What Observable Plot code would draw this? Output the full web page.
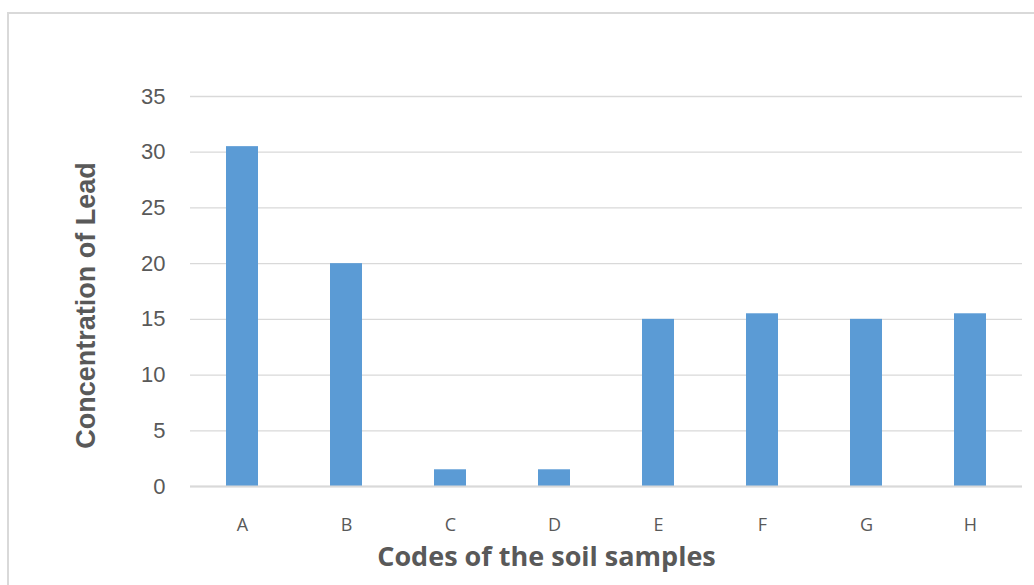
<!DOCTYPE html>
<html>
<head>
<meta charset="utf-8">
<script src="https://cdn.jsdelivr.net/npm/d3@7"></script>
<script src="https://cdn.jsdelivr.net/npm/@observablehq/plot@0.6"></script>
<style>
  html, body { margin: 0; padding: 0; background: #fff; }
  #wrap { position: relative; width: 1034px; height: 585px; overflow: hidden; }
  #frame { position: absolute; left: 7px; top: 12px; width: 1040px; height: 600px;
           border: 2px solid #d9d9d9; box-sizing: border-box; }
  #chart { position: absolute; left: 0; top: 0; }
</style>
</head>
<body>
<div id="wrap"><div id="frame"></div><div id="chart"></div></div>
<script>
const categories = ["A", "B", "C", "D", "E", "F", "G", "H"];
const values = [30.5, 20, 1.5, 1.5, 15, 15.5, 15, 15.5];
const yTicks = [0, 5, 10, 15, 20, 25, 30, 35];
const xTitle = "Codes of the soil samples";
const yTitle = "Concentration of Lead";

const data = categories.map((c, i) => ({code: c, value: values[i]}));

const chart = Plot.plot({
  width: 1034,
  height: 585,
  marginLeft: 190,
  marginRight: 12,
  marginTop: 96,
  marginBottom: 99,
  style: {background: "transparent", color: "#595959"},
  x: {domain: categories, paddingInner: 0.69, paddingOuter: 0.345, align: 0.5},
  y: {domain: [0, 35]},
  marks: [
    Plot.gridY(yTicks, {stroke: "#d9d9d9", strokeOpacity: 1, strokeWidth: 1.3}),
    Plot.barY(data, {x: "code", y: "value", fill: "#5B9BD5"}),
    Plot.ruleY([0], {stroke: "#d9d9d9", strokeWidth: 2}),
    Plot.axisY(yTicks, {tickSize: 0, tickPadding: 25, fontSize: 22, fontFamily: "Liberation Sans, Arial, sans-serif", fill: "#595959", label: null}),
    Plot.axisX({tickSize: 0, tickPadding: 32, fontSize: 18, fontFamily: "Open Sans, sans-serif", fill: "#595959", label: null}),
    Plot.text([yTitle], {frameAnchor: "left", textAnchor: "middle", lineAnchor: "middle", dx: -104, dy: 14, rotate: -90, fontSize: 27, fontWeight: "bold", fontFamily: "Liberation Sans, Arial, sans-serif", fill: "#595959"}),
    Plot.text([xTitle], {frameAnchor: "bottom", textAnchor: "middle", lineAnchor: "middle", dx: -60, dy: 71, fontSize: 27, fontWeight: "bold", fontFamily: "Open Sans, sans-serif", fill: "#595959"})
  ]
});
document.getElementById("chart").appendChild(chart);
</script>
</body>
</html>
